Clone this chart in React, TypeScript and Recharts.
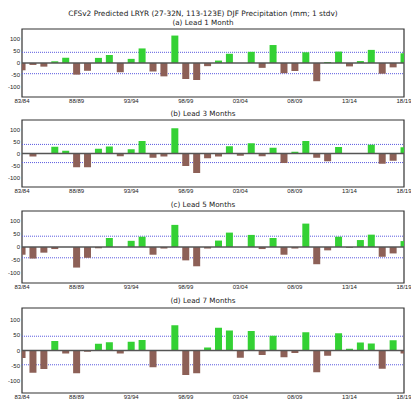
import React from "react";
import {
  BarChart,
  Bar,
  XAxis,
  YAxis,
  Cell,
  ReferenceLine,
  ReferenceArea,
} from "recharts";

const years = [
  1983, 1984, 1985, 1986, 1987, 1988, 1989, 1990, 1991, 1992, 1993, 1994,
  1995, 1996, 1997, 1998, 1999, 2000, 2001, 2002, 2003, 2004, 2005, 2006,
  2007, 2008, 2009, 2010, 2011, 2012, 2013, 2014, 2015, 2016, 2017, 2018,
];

const tickYears = [1983, 1988, 1993, 1998, 2003, 2008, 2013, 2018];
const tickLabels = ["83/84", "88/89", "93/94", "98/99", "03/04", "08/09", "13/14", "18/19"];
const yTicks = [-100, -50, 0, 50, 100];

const lead1 = [
  -30, -8, -15, 7, 22, -48, -32, 21, 33, -38, 17, 60, -35, -55, 113, -66, -70, -13,
  10, 38, 0, 46, -20, 74, -42, -33, 44, -75, 4, 47, -14, 8, 54, -44, -18, 40,
];
const lead3 = [
  0, -13, 0, 28, 12, -57, -57, 20, 29, -12, 18, 52, -18, -13, 106, -52, -82, -20,
  -13, 30, -9, 43, -11, 24, -40, 7, 52, -18, -32, 27, 2, 2, 37, -43, -30, 26,
];
const lead5 = [
  -30, -45, -22, -8, 0, -80, -42, -5, 35, 0, 24, 40, -30, -6, 86, -52, -75, -6,
  25, 56, 0, 47, -8, 35, -30, -6, 91, -67, -13, 40, -3, 27, 48, -38, -25, 23,
];
const lead7 = [
  -25, -73, -61, 31, -10, -75, -4, 22, 27, -10, 29, 35, -55, 1, 83, -81, -75, 10,
  75, 66, -24, 64, -15, 49, -22, -8, 60, -72, -17, 57, 6, 26, 23, -60, 34, -10,
];

const panelTitles = [
  "(a) Lead 1 Month",
  "(b) Lead 3 Months",
  "(c) Lead 5 Months",
  "(d) Lead 7 Months",
];
const stdvLines = [44, 38, 42, 47];
const series = [lead1, lead3, lead5, lead7];

const mainTitle = "CFSv2 Predicted LRYR (27-32N, 113-123E) DJF Precipitation (mm; 1 stdv)";

// plot top / plot height in px, and title center y, per panel
const panels = [
  { top: 29, h: 68, titleY: 22.5 },
  { top: 120, h: 67, titleY: 113.5 },
  { top: 211, h: 72, titleY: 205 },
  { top: 308, h: 85, titleY: 301 },
];

const GREEN = "#34d134";
const BROWN = "#8d6057";
const BLUE = "#5a5ae0";
const tickFont = { fontSize: 6, fontFamily: "Liberation Sans", fill: "#222" };

function Panel({ idx }: { idx: number }) {
  const p = panels[idx];
  const data = years.map((y, i) => ({ year: y, value: series[idx][i] }));
  const thr = stdvLines[idx];
  return (
    <>
      <div
        style={{
          position: "absolute",
          left: 0,
          width: 406,
          top: p.titleY - 5,
          height: 10,
          lineHeight: "10px",
          textAlign: "center",
          fontSize: 7.2,
          fontFamily: "DejaVu Sans",
          color: "#222",
        }}
      >
        {panelTitles[idx]}
      </div>
      <div style={{ position: "absolute", left: 0, top: p.top - 2 }}>
        <BarChart
          width={411}
          height={p.h + 2 + 10}
          data={data}
          margin={{ top: 2, right: 7, bottom: 0, left: 0 }}
        >
          <XAxis
            dataKey="year"
            type="number"
            domain={[1983, 2018]}
            allowDataOverflow
            ticks={tickYears}
            interval={0}
            tickFormatter={(v: number) => tickLabels[tickYears.indexOf(v)]}
            tick={tickFont}
            tickLine={false}
            tickSize={0}
            tickMargin={2}
            axisLine={false}
            height={10}
          />
          <YAxis
            type="number"
            domain={[-140, 140]}
            ticks={yTicks}
            interval={0}
            tick={tickFont}
            tickLine={false}
            tickSize={0}
            tickMargin={2}
            axisLine={false}
            width={22}
          />
          <ReferenceLine y={thr} stroke={BLUE} strokeDasharray="1 1" zIndex={250} />
          <ReferenceLine y={-thr} stroke={BLUE} strokeDasharray="1 1" zIndex={250} />
          <Bar dataKey="value" barSize={7} isAnimationActive={false}>
            {data.map((d, i) => (
              <Cell key={`c-${i}`} fill={d.value >= 0 ? GREEN : BROWN} />
            ))}
          </Bar>
          <ReferenceLine y={0} stroke="#555" strokeWidth={1.5} />
          <ReferenceArea
            x1={1983}
            x2={2018}
            y1={-140}
            y2={140}
            fill="none"
            stroke="#333"
            strokeWidth={1.2}
            fillOpacity={0}
          />
        </BarChart>
      </div>
    </>
  );
}

export default function App() {
  return (
    <div
      style={{
        position: "absolute",
        left: 0,
        top: 0,
        width: 411,
        height: 406,
        background: "#fff",
        overflow: "hidden",
      }}
    >
      <div
        style={{
          position: "absolute",
          left: 0,
          width: 406,
          top: 8.5,
          height: 10,
          lineHeight: "10px",
          textAlign: "center",
          fontSize: 7.4,
          fontFamily: "DejaVu Sans",
          color: "#222",
        }}
      >
        {mainTitle}
      </div>
      {panels.map((_, i) => (
        <Panel key={i} idx={i} />
      ))}
    </div>
  );
}
